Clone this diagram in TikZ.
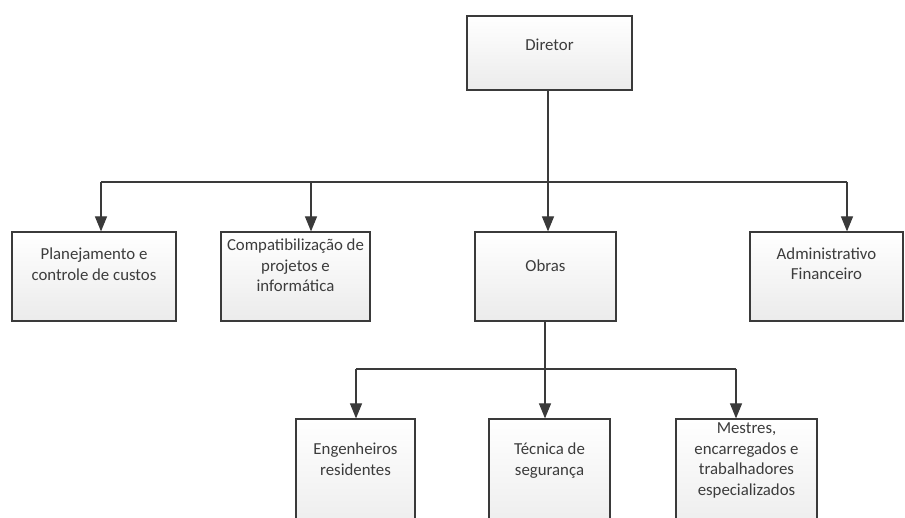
\documentclass[tikz,border=0pt]{standalone}
\usepackage{fontspec}
\setmainfont{Carlito}
\usetikzlibrary{arrows.meta}

\definecolor{borda}{HTML}{3A3A3A}
\definecolor{texto}{HTML}{3C3C3C}
\definecolor{fundo}{HTML}{EBEBEB}

\newcommand{\linhas}[1]{\begin{tabular}{@{}c@{}}#1\end{tabular}}

\tikzset{
  caixa/.style={draw=borda, line width=1.2pt, top color=white, bottom color=fundo, inner sep=0pt},
  rotulo/.style={inner sep=0pt, text=texto, font=\fontsize{16.8}{20.5}\selectfont},
  liga/.style={draw=borda, line width=1.2pt},
  seta/.style={liga, -{Triangle[width=12pt, length=15pt]}},
}

\begin{document}
\begin{tikzpicture}[x=1pt, y=-1pt]
    \useasboundingbox (0,0) rectangle (905,518);
    \clip (0,0) rectangle (905,518);

    % Diretor
    \node[caixa, minimum width=165pt, minimum height=74pt,
      label={[rotulo, yshift=8pt]center:Diretor}] (dir) at (549.5,53) {};

    % Segundo nível
    \node[caixa, minimum width=164pt, minimum height=89pt,
      label={[rotulo, yshift=10.5pt]center:\linhas{Planejamento e\\controle de custos}}] (plan) at (94,276.5) {};
    \node[caixa, minimum width=149pt, minimum height=89pt,
      label={[rotulo, yshift=9.5pt]center:\linhas{Compatibilização de\\projetos e\\informática}}] (comp) at (295.5,276.5) {};
    \node[caixa, minimum width=141pt, minimum height=89pt,
      label={[rotulo, yshift=10.5pt]center:Obras}] (obras) at (545.5,276.5) {};
    \node[caixa, minimum width=153pt, minimum height=89pt,
      label={[rotulo, yshift=11pt]center:\linhas{Administrativo\\Financeiro}}] (admin) at (826.5,276.5) {};

    % Terceiro nível (sob Obras)
    \node[caixa, minimum width=119pt, minimum height=121pt,
      label={[rotulo, yshift=18.5pt]center:\linhas{Engenheiros\\residentes}}] (eng) at (355.5,479.5) {};
    \node[caixa, minimum width=121pt, minimum height=121pt,
      label={[rotulo, yshift=18.5pt]center:\linhas{Técnica de\\segurança}}] (tec) at (549.5,479.5) {};
    \node[caixa, minimum width=141pt, minimum height=121pt,
      label={[rotulo, yshift=19pt]center:\linhas{Mestres,\\encarregados e\\trabalhadores\\especializados}}] (mest) at (746.5,479.5) {};

    % Ligações do diretor
    \coordinate (ramo) at (548,182);
    \coordinate (e1) at (101,182);
    \coordinate (e2) at (311,182);
    \coordinate (e4) at (847,182);
    \draw[liga] (dir.south -| ramo) -- (ramo);
    \draw[liga] (e1) -- (e4);
    \draw[seta] (e1) -- (e1 |- plan.north);
    \draw[seta] (e2) -- (e2 |- comp.north);
    \draw[seta] (ramo) -- (ramo |- obras.north);
    \draw[seta] (e4) -- (e4 |- admin.north);

    % Ligações de Obras
    \coordinate (ramo2) at (545,369);
    \coordinate (f1) at (356,369);
    \coordinate (f3) at (736,369);
    \draw[liga] (obras.south -| ramo2) -- (ramo2);
    \draw[liga] (f1) -- (f3);
    \draw[seta] (f1) -- (f1 |- eng.north);
    \draw[seta] (ramo2) -- (ramo2 |- tec.north);
    \draw[seta] (f3) -- (f3 |- mest.north);
\end{tikzpicture}
\end{document}
